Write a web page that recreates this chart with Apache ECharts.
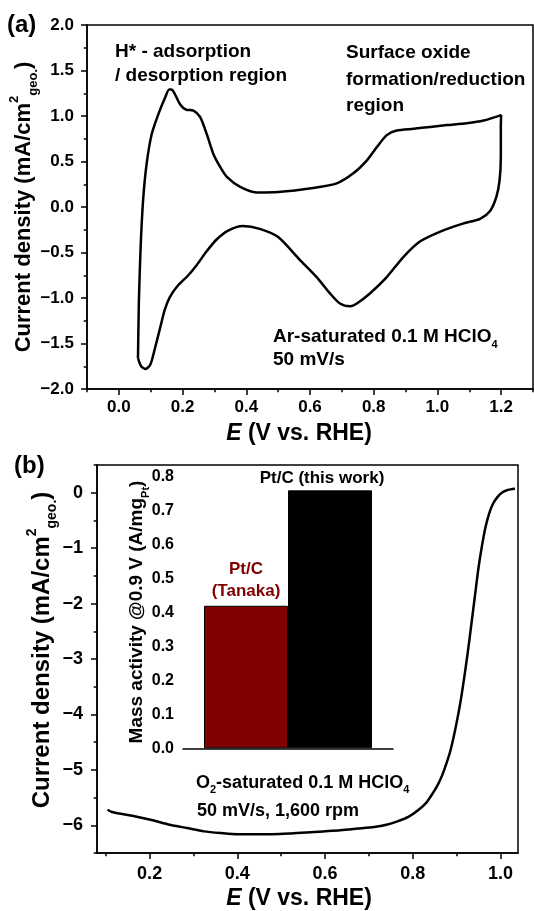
<!DOCTYPE html>
<html>
<head>
<meta charset="utf-8">
<script src="https://cdn.jsdelivr.net/npm/echarts@6/dist/echarts.min.js"></script>
<style>
  html, body { margin: 0; padding: 0; background: #fff; }
  #chart { width: 534px; height: 911px; }
</style>
</head>
<body>
<div id="chart"></div>
<script>
(function () {

  // (a) CV in Ar-saturated HClO4, one closed loop starting at the lower vertex
  var cvE = [0.060, 0.062, 0.063, 0.068, 0.076, 0.087, 0.103, 0.124, 0.145, 0.158, 0.165,
    0.173, 0.192, 0.211, 0.234, 0.255, 0.276, 0.297, 0.318, 0.339, 0.381, 0.432, 0.500,
    0.610, 0.684, 0.736, 0.778, 0.810, 0.841, 0.872, 0.925, 0.977, 1.030, 1.092, 1.145, 1.200,
    1.199, 1.199, 1.195, 1.185, 1.166, 1.134, 1.082, 1.009, 0.945, 0.893, 0.841, 0.788,
    0.747, 0.726, 0.694, 0.663, 0.621, 0.568, 0.500, 0.442, 0.390, 0.343, 0.306, 0.275,
    0.244, 0.218, 0.186, 0.160, 0.144, 0.128, 0.112, 0.099, 0.084, 0.070, 0.060];
  var cvJ = [-1.66, -1.20, -1.02, -0.47, 0.07, 0.47, 0.80, 1.02, 1.20, 1.29, 1.29,
    1.26, 1.13, 1.07, 1.06, 0.99, 0.80, 0.58, 0.44, 0.33, 0.22, 0.16, 0.165,
    0.21, 0.26, 0.37, 0.51, 0.66, 0.79, 0.84, 0.86, 0.88, 0.90, 0.92, 0.95, 1.01,
    0.88, 0.55, 0.29, 0.11, -0.04, -0.13, -0.18, -0.27, -0.38, -0.55, -0.77, -0.95,
    -1.06, -1.09, -1.06, -0.95, -0.77, -0.58, -0.33, -0.24, -0.21, -0.26, -0.36, -0.49,
    -0.64, -0.75, -0.86, -0.99, -1.13, -1.35, -1.57, -1.73, -1.78, -1.75, -1.66];

  // (b) ORR polarization curve, O2-saturated, 1600 rpm
  var lsvE = [0.104, 0.114, 0.140, 0.168, 0.207, 0.246, 0.285, 0.324, 0.363, 0.401, 0.440,
    0.479, 0.518, 0.557, 0.596, 0.635, 0.674, 0.712, 0.740, 0.765, 0.790, 0.812, 0.830,
    0.845, 0.857, 0.867, 0.877, 0.886, 0.894, 0.902, 0.910, 0.918, 0.926, 0.934, 0.942,
    0.950, 0.958, 0.966, 0.974, 0.983, 0.993, 1.003, 1.013, 1.023, 1.033];
  var lsvJ = [-5.72, -5.76, -5.80, -5.84, -5.91, -5.99, -6.05, -6.11, -6.14, -6.16, -6.16,
    -6.16, -6.15, -6.13, -6.11, -6.09, -6.06, -6.03, -5.99, -5.93, -5.85, -5.73, -5.60,
    -5.43, -5.27, -5.10, -4.88, -4.65, -4.38, -4.07, -3.72, -3.30, -2.85, -2.35, -1.85,
    -1.35, -0.95, -0.62, -0.38, -0.20, -0.08, 0.00, 0.04, 0.06, 0.07];

  // inset: mass activity @0.9 V
  var barNames = ['Pt/C\n(Tanaka)', 'Pt/C (this work)'];
  var barValues = [0.42, 0.76];

  // tick values
  var cvXTicks = [0.0, 0.2, 0.4, 0.6, 0.8, 1.0, 1.2];
  var cvXMinor = [-0.1, 0.1, 0.3, 0.5, 0.7, 0.9, 1.1, 1.3];
  var cvYTicks = [-2.0, -1.5, -1.0, -0.5, 0.0, 0.5, 1.0, 1.5, 2.0];
  var cvYMinor = [-1.75, -1.25, -0.75, -0.25, 0.25, 0.75, 1.25, 1.75];
  var lsvXTicks = [0.2, 0.4, 0.6, 0.8, 1.0];
  var lsvXMinor = [0.1, 0.3, 0.5, 0.7, 0.9];
  var lsvYTicks = [-6, -5, -4, -3, -2, -1, 0];
  var lsvYMinor = [-6.5, -5.5, -4.5, -3.5, -2.5, -1.5, -0.5, 0.5];
  var insetYTicks = [0.0, 0.1, 0.2, 0.3, 0.4, 0.5, 0.6, 0.7, 0.8];
  var insetYMinor = [0.05, 0.15, 0.25, 0.35, 0.45, 0.55, 0.65, 0.75];

  var FF = '"Liberation Sans", Arial, Helvetica, sans-serif';
  var line = {color: '#000', width: 1.5};

  function minus(s) {
    return String(s).replace('-', '\u2212');
  }

  // main axis (line, major ticks, labels) + overlay axis carrying only minor ticks
  function axisPair(dim, grid, min, max, majors, minors, digits, size, margin, tickLen) {
    var main = {
      type: 'value', gridIndex: grid, min: min, max: max,
      position: dim === 'x' ? 'bottom' : 'left',
      axisLine: {onZero: false, lineStyle: line},
      axisTick: {customValues: majors, length: tickLen, lineStyle: line},
      axisLabel: {
        customValues: majors, margin: margin, color: '#000',
        fontSize: size, fontWeight: 'bold', fontFamily: FF,
        formatter: function (v) { return minus(v.toFixed(digits)); }
      },
      splitLine: {show: false}
    };
    var minor = {
      type: 'value', gridIndex: grid, min: min, max: max,
      position: dim === 'x' ? 'bottom' : 'left',
      axisLine: {show: false, onZero: false},
      axisTick: {customValues: minors, length: tickLen * 0.55, lineStyle: line},
      axisLabel: {show: false},
      splitLine: {show: false}
    };
    return [main, minor];
  }

  function txt(x, y, text, size, rich, extra) {
    var el = {
      type: 'text', x: x, y: y, z: 10,
      style: {
        text: text, fontSize: size, fontWeight: 'bold', fontFamily: FF, fill: '#000',
        align: 'left', verticalAlign: 'middle', rich: rich || {}
      }
    };
    for (var k in extra) el[k] = extra[k];
    return el;
  }

  function richSet(size, lh, color) {
    var small = Math.round(size * 0.6);
    var base = {fontSize: size, fontWeight: 'bold', fontFamily: FF, fill: color || '#000', lineHeight: lh};
    return {
      n: base,
      i: {fontSize: size, fontWeight: 'bold', fontStyle: 'italic', fontFamily: FF, fill: '#000', lineHeight: lh},
      sup: {fontSize: small, fontWeight: 'bold', fontFamily: FF, fill: '#000', verticalAlign: 'top'},
      sub: {fontSize: small, fontWeight: 'bold', fontFamily: FF, fill: color || '#000', verticalAlign: 'bottom'}
    };
  }

  var xa = axisPair('x', 0, -0.1, 1.3, cvXTicks, cvXMinor, 1, 17, 10, 6);
  var ya = axisPair('y', 0, -2, 2, cvYTicks, cvYMinor, 1, 17, 13, 6);
  var xb = axisPair('x', 1, 0.08, 1.04, lsvXTicks, lsvXMinor, 1, 18, 12, 6);
  var yb = axisPair('y', 1, -6.5, 0.5, lsvYTicks, lsvYMinor, 0, 18, 14, 6);
  var yi = axisPair('y', 2, 0, 0.82, insetYTicks, insetYMinor, 1, 16, 9, 5);

  var insetX = {
    type: 'category', gridIndex: 2, data: [''],
    axisLine: {onZero: false, lineStyle: line}, axisTick: {show: false}, axisLabel: {show: false},
    splitLine: {show: false}
  };

  var yTitle = '{n|Current density (mA/cm}{sup|2}{sub|geo.}{n|)}';
  var xTitle = '{i|E}{n| (V vs. RHE)}';

  var myChart = echarts.init(document.getElementById('chart'), null, {renderer: 'canvas'});
  var option = {
    backgroundColor: '#fff',
    animation: false,
    grid: [
      {left: 87, top: 25, width: 446, height: 364, show: true, borderColor: '#000', borderWidth: 1.5},
      {left: 97, top: 465, width: 421, height: 388, show: true, borderColor: '#000', borderWidth: 1.5},
      {left: 183, top: 470, width: 210, height: 278.3}
    ],
    xAxis: [xa[0], xa[1], xb[0], xb[1], insetX],
    yAxis: [ya[0], ya[1], yb[0], yb[1], yi[0], yi[1]],
    series: [
      {
        type: 'line', xAxisIndex: 0, yAxisIndex: 0,
        data: cvE.map(function (e, i) { return [e, cvJ[i]]; }),
        showSymbol: false, smooth: 0.25,
        lineStyle: {color: '#000', width: 2.5}
      },
      {
        type: 'line', xAxisIndex: 2, yAxisIndex: 2,
        data: lsvE.map(function (e, i) { return [e, lsvJ[i]]; }),
        showSymbol: false, smooth: 0.25,
        lineStyle: {color: '#000', width: 2.5}
      },
      {
        type: 'bar', xAxisIndex: 4, yAxisIndex: 4,
        data: [barValues[0]], barWidth: 84, barGap: '0%',
        itemStyle: {color: '#800000', borderColor: '#000', borderWidth: 1},
        label: {
          show: true, position: 'top', distance: 3, formatter: barNames[0],
          color: '#800000', fontSize: 17, fontWeight: 'bold', fontFamily: FF, lineHeight: 22
        }
      },
      {
        type: 'bar', xAxisIndex: 4, yAxisIndex: 4,
        data: [barValues[1]], barWidth: 84, barGap: '0%',
        itemStyle: {color: '#000', borderColor: '#000', borderWidth: 1},
        label: {
          show: true, position: 'top', distance: 4, offset: [-8, 0], formatter: barNames[1],
          color: '#000', fontSize: 17, fontWeight: 'bold', fontFamily: FF
        }
      }
    ],
    graphic: [
      txt(7, 25, '(a)', 24),
      txt(14, 466, '(b)', 24),
      // axis titles
      txt(24, 207, yTitle, 22, richSet(22, 32), {rotation: Math.PI / 2}),
      txt(299, 434, xTitle, 23, richSet(23, 28)),
      txt(42, 650, yTitle, 24, richSet(24, 34), {rotation: Math.PI / 2}),
      txt(299, 899, xTitle, 23, richSet(23, 28)),
      txt(137, 612, '{n|Mass activity @0.9 V (A/mg}{sub|Pt}{n|)}', 19, richSet(19, 28), {rotation: Math.PI / 2}),
      // annotations, panel (a)
      txt(115, 52, 'H* - adsorption', 19),
      txt(115, 76, '/ desorption region', 19),
      txt(346, 53, 'Surface oxide', 19),
      txt(346, 80, 'formation/reduction', 19),
      txt(346, 106, 'region', 19),
      txt(273, 337, '{n|Ar-saturated 0.1 M HClO}{sub|4}', 19, richSet(19, 26)),
      txt(273, 360, '50 mV/s', 19),
      // annotations, panel (b)
      txt(196, 783, '{n|O}{sub|2}{n|-saturated 0.1 M HClO}{sub|4}', 18, richSet(18, 25)),
      txt(197, 811, '50 mV/s, 1,600 rpm', 18)
    ]
  };

  // centre the rotated and x titles on their anchor points
  option.graphic.forEach(function (g) {
    if (g.rotation || g.x === 299) g.style.align = 'center';
  });

  myChart.setOption(option);
})();
</script>
</body>
</html>
